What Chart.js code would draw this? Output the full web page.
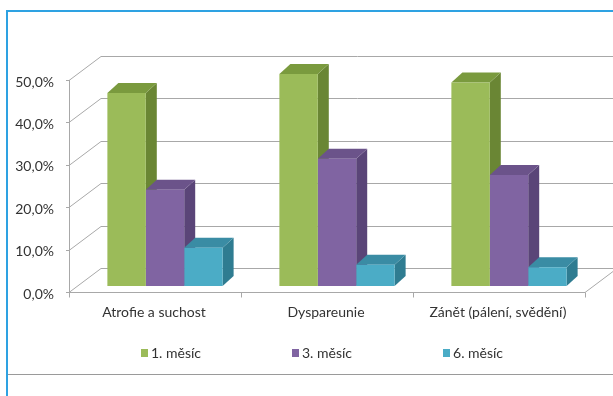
<!DOCTYPE html>
<html>
<head>
<meta charset="utf-8">
<script src="https://cdn.jsdelivr.net/npm/chart.js@4/dist/chart.umd.min.js"></script>
<style>
  html, body { margin: 0; padding: 0; background: #fff; }
  #wrap { position: relative; width: 613px; height: 396px; overflow: hidden; }
  #frame { position: absolute; left: 6px; top: 10px; width: 700px; height: 500px;
           border-left: 2px solid #2ea2e2; border-top: 2px solid #2ea2e2; }
  #rule { position: absolute; left: 8px; top: 374px; width: 620px; border-top: 1px solid #9a9a9a; }
  canvas { position: absolute; left: 0; top: 0; }
</style>
</head>
<body>
<div id="wrap">
  <div id="frame"></div>
  <div id="rule"></div>
  <canvas id="c" width="613" height="396"></canvas>
</div>
<script>
// Symptom categories and share of patients (%) at each follow-up
const categories = ['Atrofie a suchost', 'Dyspareunie', 'Zánět (pálení, svědění)'];
const seriesNames = ['1. měsíc', '3. měsíc', '6. měsíc'];
const month1 = [45.5, 50.0, 48.0];
const month3 = [22.7, 30.0, 26.2];
const month6 = [9.0, 5.0, 4.4];
const yTicks = [0, 10, 20, 30, 40, 50];

// Face colours of the extruded bars: front, side, top
const frontColors = ['#9bbb59', '#8064a2', '#4bacc6'];
const sideColors = ['#6a8634', '#5a4578', '#2f7c91'];
const topColors = ['#7a9a3e', '#6b538a', '#3a8ca4'];

const FONT = "'Lato', 'Carlito', 'Open Sans', sans-serif";
const TEXT = '#333333';

function seg(ctx, x1, y1, x2, y2) {
  ctx.beginPath(); ctx.moveTo(x1, y1); ctx.lineTo(x2, y2); ctx.stroke();
}
function poly(ctx, pts) {
  ctx.beginPath();
  ctx.moveTo(pts[0][0], pts[0][1]);
  for (let i = 1; i < pts.length; i++) ctx.lineTo(pts[i][0], pts[i][1]);
  ctx.closePath(); ctx.fill();
}

// Walls, floor and bar extrusion, drawn behind the bar fronts
const box3d = {
  id: 'box3d',
  beforeDatasetsDraw(chart, args, o) {
    const { ctx, chartArea: a, scales: { x, y } } = chart;
    const F = o.front, B = o.back, D = o.depth;
    const y0 = y.getPixelForValue(0);
    ctx.save();
    ctx.strokeStyle = o.gridColor;
    ctx.lineWidth = 1;
    y.ticks.forEach(t => {
      const py = Math.round(y.getPixelForValue(t.value)) + 0.5;
      seg(ctx, a.left + B[0], py + B[1], chart.width + 5, py + B[1]);
      seg(ctx, a.left + F[0], py + F[1], a.left + B[0], py + B[1]);
      seg(ctx, a.left + F[0] - 3, py + F[1], a.left + F[0], py + F[1]);
    });
    const fx = Math.round(a.left + F[0]) + 0.5;
    seg(ctx, fx, y.getPixelForValue(y.max) + F[1], fx, y0 + F[1] + 0.5);
    const fy = Math.round(y0 + F[1]) + 0.5;
    seg(ctx, a.left + F[0], fy, a.right + F[0], fy);
    seg(ctx, a.right + F[0], fy, a.right + B[0], fy + B[1] - F[1]);
    for (let i = 0; i <= chart.data.labels.length; i++) {
      const px = Math.round(x.getPixelForValue(i - 0.5) + F[0]) + 0.5;
      seg(ctx, px, fy, px, fy + 5);
    }
    chart.data.datasets.forEach((ds, di) => {
      const meta = chart.getDatasetMeta(di);
      meta.data.forEach(bar => {
        const p = bar.getProps(['x', 'y', 'base', 'width'], true);
        const l = p.x - p.width / 2, r = p.x + p.width / 2;
        ctx.fillStyle = sideColors[di];
        poly(ctx, [[r, p.y], [r + D[0], p.y + D[1]], [r + D[0], p.base + D[1]], [r, p.base]]);
        ctx.fillStyle = topColors[di];
        poly(ctx, [[l, p.y], [l + D[0], p.y + D[1]], [r + D[0], p.y + D[1]], [r, p.y]]);
      });
    });
    ctx.restore();
  }
};

// Single-row legend under the category labels
const legendRow = {
  id: 'legendRow',
  afterDraw(chart, args, o) {
    const { ctx, chartArea: a } = chart;
    ctx.save();
    ctx.font = o.font;
    ctx.textBaseline = 'middle';
    ctx.textAlign = 'left';
    const items = chart.data.datasets.map((ds, i) => ({
      text: ds.label, color: frontColors[i],
      w: o.box + o.gap + ctx.measureText(ds.label).width
    }));
    const total = items.reduce((s, it) => s + it.w, 0) + o.spacing * (items.length - 1);
    const cx = (a.left + a.right) / 2 + o.shift;
    let xp = cx - total / 2;
    items.forEach(it => {
      ctx.fillStyle = it.color;
      ctx.fillRect(Math.round(xp), Math.round(o.y - 4), o.box, 8);
      ctx.fillStyle = TEXT;
      ctx.fillText(it.text, xp + o.box + o.gap, o.y);
      xp += it.w + o.spacing;
    });
    ctx.restore();
  }
};

const values = [month1, month3, month6];

new Chart(document.getElementById('c'), {
  type: 'bar',
  data: {
    labels: categories,
    datasets: seriesNames.map((name, i) => ({
      label: name,
      data: values[i],
      backgroundColor: frontColors[i],
      borderWidth: 0,
      categoryPercentage: 0.67,
      barPercentage: 1.0
    }))
  },
  options: {
    responsive: false,
    animation: false,
    layout: { padding: { left: 0, right: 18, top: 74, bottom: 70 } },
    plugins: {
      legend: { display: false },
      tooltip: { enabled: false },
      box3d: { front: [-10, 6], back: [22, -18], depth: [11, -10], gridColor: '#a8a8a8' },
      legendRow: { font: '14px ' + FONT, box: 7, gap: 3, spacing: 91, y: 353, shift: -15 }
    },
    scales: {
      x: {
        grid: { display: false, drawTicks: false },
        border: { display: false },
        ticks: { color: TEXT, font: { family: FONT, size: 14 }, padding: 18, labelOffset: -11, maxRotation: 0 },
        afterFit(s) { s.height = 40; }
      },
      y: {
        min: 0, max: 50,
        afterBuildTicks(s) { s.ticks = yTicks.map(v => ({ value: v })); },
        grid: { display: false, drawTicks: false },
        border: { display: false },
        ticks: {
          color: TEXT, font: { family: FONT, size: 14 }, padding: 25, labelOffset: 8,
          callback: v => v.toFixed(1).replace('.', ',') + '%'
        },
        afterFit(s) { s.width = 79; }
      }
    }
  },
  plugins: [box3d, legendRow]
});
</script>
</body>
</html>
